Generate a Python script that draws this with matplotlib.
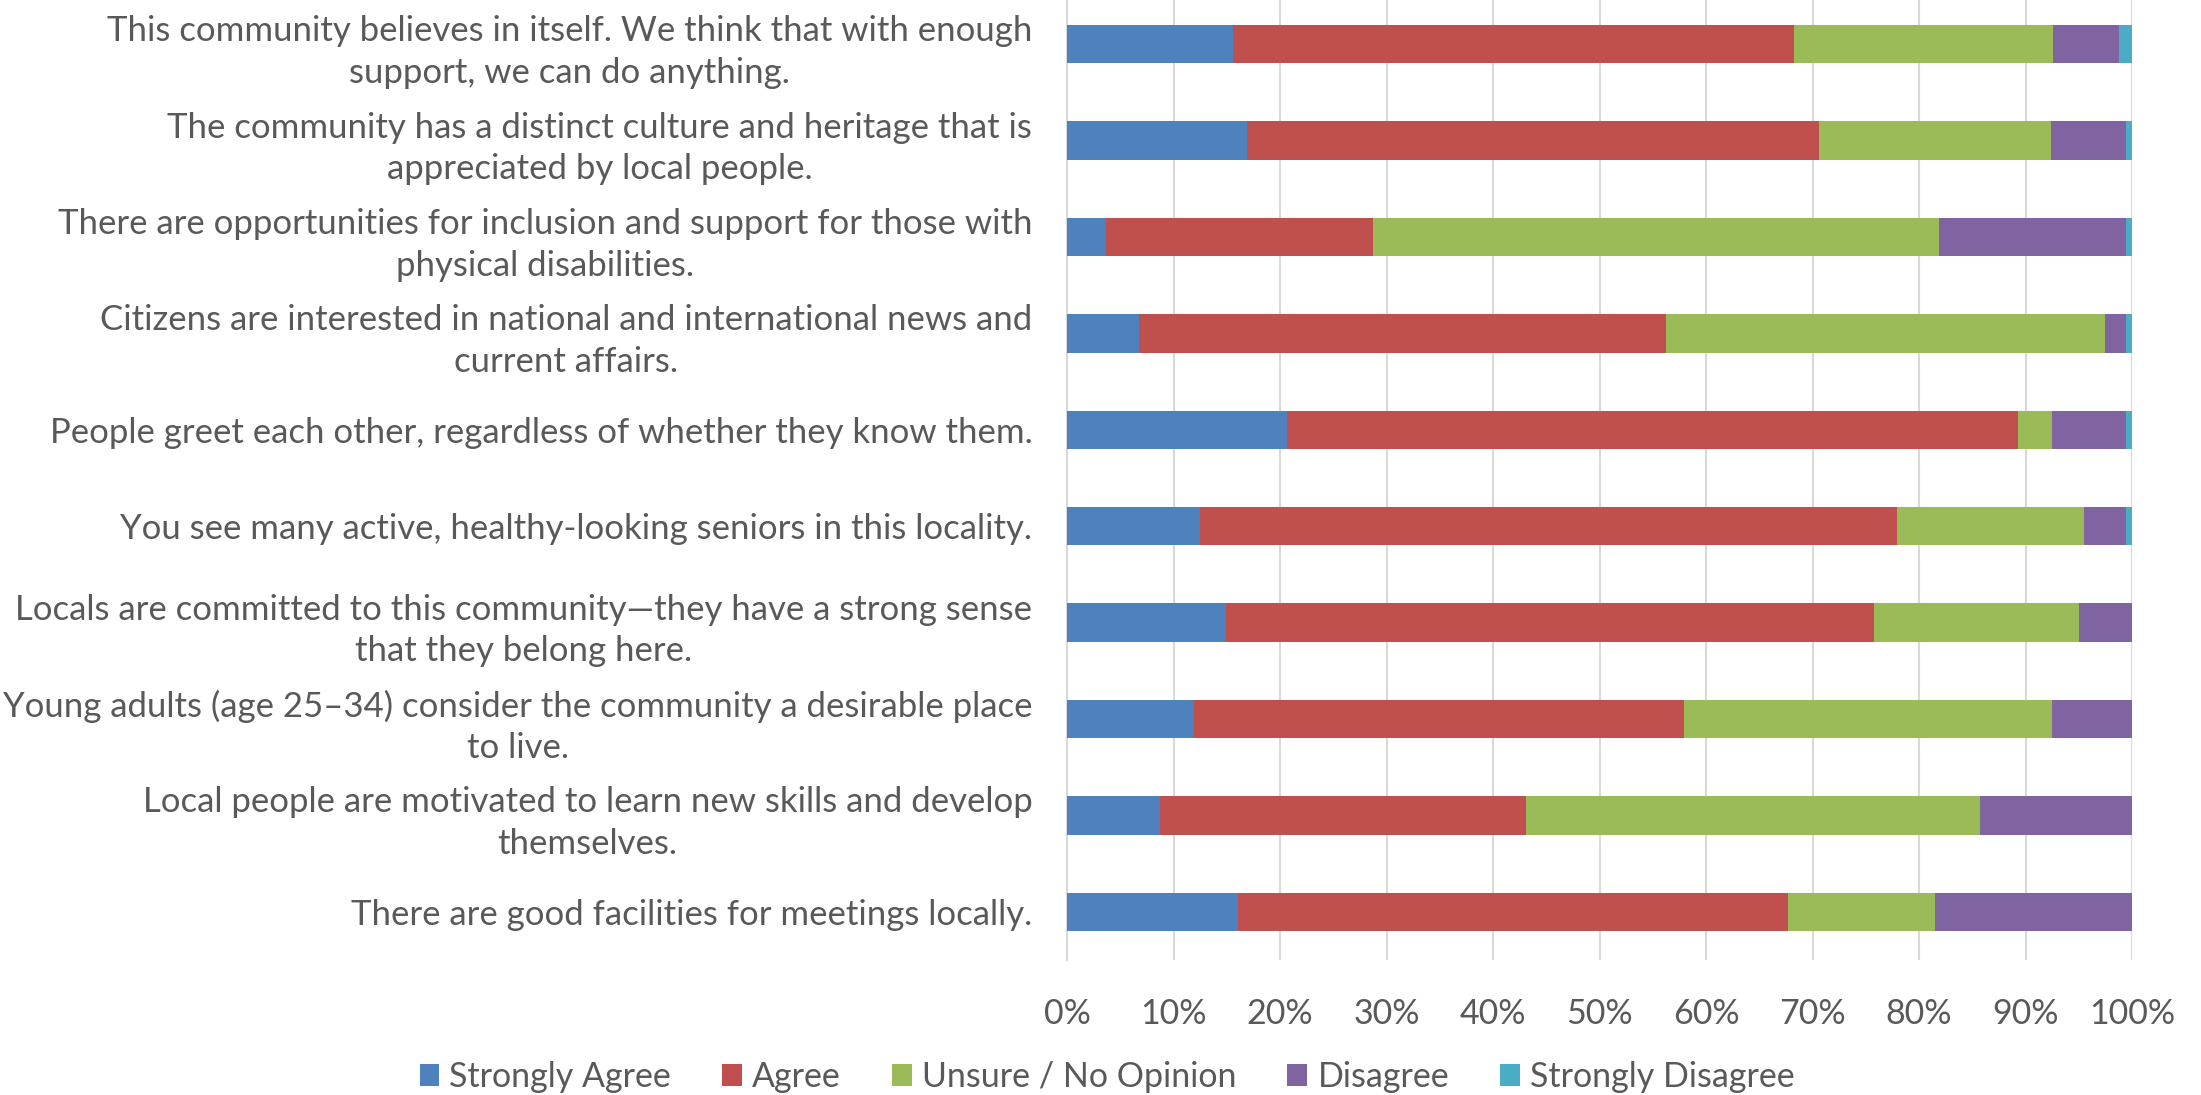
import matplotlib
matplotlib.use("Agg")
import matplotlib.pyplot as plt
import numpy as np
from matplotlib.ticker import PercentFormatter

plt.rcParams['font.family'] = ['Lato', 'DejaVu Sans']

categories = [
    "This community believes in itself. We think that with enough\nsupport, we can do anything.",
    "The community has a distinct culture and heritage that is\nappreciated by local people.",
    "There are opportunities for inclusion and support for those with\nphysical disabilities.",
    "Citizens are interested in national and international news and\ncurrent affairs.",
    "People greet each other, regardless of whether they know them.",
    "You see many active, healthy-looking seniors in this locality.",
    "Locals are committed to this community\u2014they have a strong sense\nthat they belong here.",
    "Young adults (age 25\u201334) consider the community a desirable place\nto live.",
    "Local people are motivated to learn new skills and develop\nthemselves.",
    "There are good facilities for meetings locally.",
]
series_names = ["Strongly Agree", "Agree", "Unsure / No Opinion", "Disagree", "Strongly Disagree"]
strongly_agree = [15.6, 16.9, 3.7, 6.8, 20.7, 12.5, 14.9, 11.9, 8.7, 16.1]
agree = [52.7, 53.7, 25.0, 49.4, 68.6, 65.4, 60.9, 46.0, 34.4, 51.6]
unsure = [24.3, 21.8, 53.2, 41.3, 3.2, 17.6, 19.2, 34.6, 42.6, 13.8]
disagree = [6.2, 7.0, 17.5, 1.9, 6.9, 3.9, 5.0, 7.5, 14.3, 18.5]
strongly_disagree = [1.2, 0.6, 0.6, 0.6, 0.6, 0.6, 0.0, 0.0, 0.0, 0.0]
colors = ["#4F81BD", "#C0504D", "#9BBB59", "#8064A2", "#4BACC6"]

series = [strongly_agree, agree, unsure, disagree, strongly_disagree]
data = np.array(series, dtype=float)
data = data / data.sum(axis=0) * 100.0

fig = plt.figure(figsize=(22.01, 10.95), dpi=100)
ax = fig.add_axes([1067 / 2201, 1 - 960 / 1095, (2132 - 1067) / 2201, (960 + 4) / 1095])

y = np.arange(len(categories))
left = np.zeros(len(categories))
for name, vals, c in zip(series_names, data, colors):
    ax.barh(y, vals, left=left, height=0.4, color=c, label=name, zorder=3)
    left += vals

ax.set_xlim(0, 100)
ax.set_ylim(len(categories) - 0.5, -0.5)
ax.set_xticks(np.arange(0, 101, 10))
ax.xaxis.set_major_formatter(PercentFormatter(decimals=0))
ax.set_yticks(y)
ax.set_yticklabels(categories, ha='right', multialignment='center', linespacing=1.38)
ax.tick_params(axis='y', length=0, pad=25, labelsize=25, labelcolor='#595959')
ax.tick_params(axis='x', length=0, pad=27, labelsize=24.5, labelcolor='#595959')
ax.grid(axis='x', color='#D9D9D9', linewidth=1.5, zorder=0)
for s in ['top', 'right', 'bottom']:
    ax.spines[s].set_visible(False)
ax.spines['left'].set_color('#D9D9D9')
ax.spines['left'].set_linewidth(1.5)

handles, labels = ax.get_legend_handles_labels()
fig.legend(handles, labels, loc='center', bbox_to_anchor=(0.503, 1 - 1077 / 1095), ncol=5,
           frameon=False, fontsize=24.5, labelcolor='#595959', handlelength=0.58, handleheight=0.58,
           handletextpad=0.3, columnspacing=1.5, borderaxespad=0)

fig.savefig("out.png", dpi=100)
